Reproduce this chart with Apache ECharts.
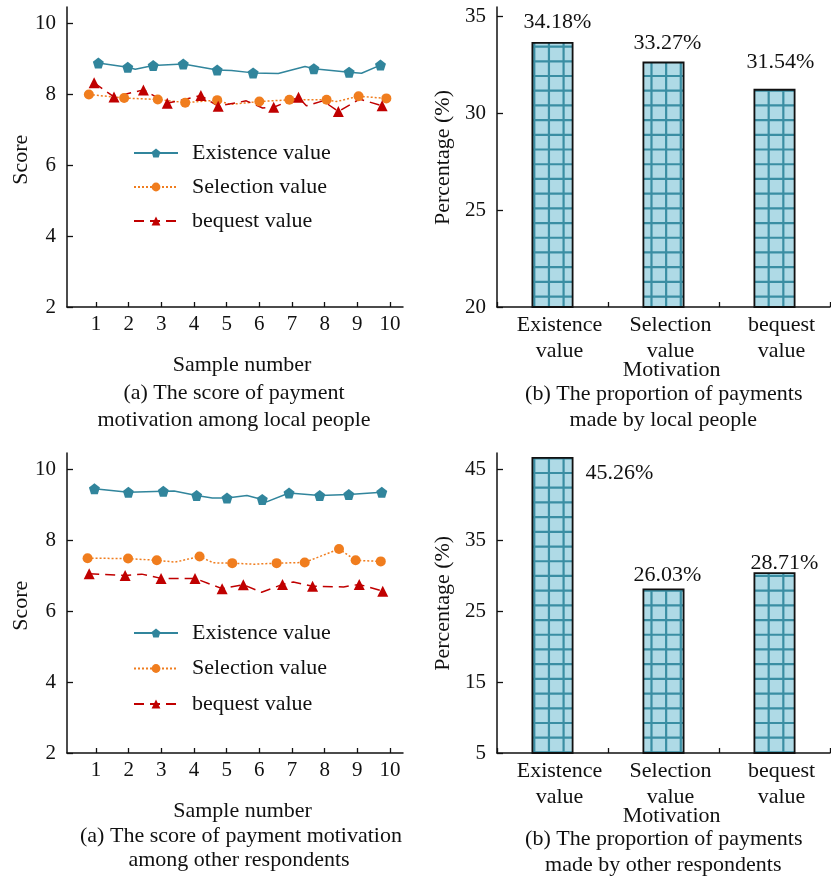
<!DOCTYPE html>
<html><head><meta charset="utf-8">
<script src="https://cdn.jsdelivr.net/npm/echarts@6/dist/echarts.min.js"></script>
<style>html,body{margin:0;padding:0;background:#fff}#c{width:831px;height:878px}</style>
</head><body><div id="c"></div>
<script>
// ---------- data ----------
const sampleTicks = [1, 2, 3, 4, 5, 6, 7, 8, 9, 10];
const scoreTicks = [2, 4, 6, 8, 10];
const seriesNames = ['Existence value', 'Selection value', 'bequest value'];

// (a) local people: marker points and line vertices [sample position, score]
const localExistencePts = [[1.07,8.89],[1.97,8.77],[2.75,8.82],[3.67,8.86],[4.71,8.69],[5.81,8.61],[7.67,8.73],[8.75,8.63],[9.71,8.83]];
const localExistencePath = [[1.07,8.89],[1.97,8.77],[2.2,8.71],[2.75,8.82],[3.67,8.86],[4.71,8.69],[5.15,8.68],[5.81,8.61],[6.58,8.59],[7.40,8.79],[7.67,8.73],[8.75,8.63],[9.13,8.60],[9.71,8.83]];
const localSelectionPts = [[0.78,8.00],[1.86,7.90],[2.89,7.86],[3.73,7.77],[4.71,7.84],[6.00,7.80],[6.92,7.85],[8.06,7.85],[9.04,7.95],[9.89,7.89]];
const localSelectionPath = [[0.78,8.00],[1.86,7.90],[2.89,7.86],[3.73,7.77],[4.71,7.84],[5.10,7.72],[6.00,7.80],[6.92,7.85],[8.06,7.85],[8.36,7.80],[9.04,7.95],[9.89,7.89]];
const localBequestPts = [[0.94,8.33],[1.55,7.93],[2.45,8.13],[3.18,7.75],[4.21,7.97],[4.74,7.67],[6.44,7.64],[7.20,7.92],[8.42,7.52],[9.76,7.68]];
const localBequestPath = [[0.94,8.33],[1.55,7.93],[2.45,8.13],[3.18,7.75],[4.21,7.97],[4.74,7.67],[5.60,7.82],[6.10,7.62],[6.44,7.64],[7.20,7.92],[7.44,7.68],[7.95,7.82],[8.42,7.52],[9.07,7.87],[9.76,7.68]];

// (a) other respondents
const otherExistencePts = [[0.95,9.46],[1.99,9.36],[3.06,9.39],[4.08,9.27],[5.01,9.20],[6.09,9.16],[6.91,9.34],[7.85,9.27],[8.74,9.30],[9.75,9.36]];
const otherExistencePath = [[0.95,9.46],[1.99,9.36],[3.06,9.39],[3.39,9.40],[4.08,9.27],[4.56,9.20],[5.01,9.20],[5.62,9.27],[6.09,9.16],[6.22,9.09],[6.91,9.34],[7.85,9.27],[8.74,9.30],[9.75,9.36]];
const otherSelectionPts = [[0.74,7.50],[1.98,7.49],[2.86,7.44],[4.17,7.55],[5.17,7.36],[6.53,7.36],[7.39,7.38],[8.44,7.76],[8.95,7.44],[9.72,7.41]];
const otherSelectionPath = [[0.74,7.50],[1.98,7.49],[2.86,7.44],[3.42,7.39],[4.17,7.55],[4.59,7.37],[5.17,7.36],[5.82,7.33],[6.53,7.36],[7.39,7.38],[8.44,7.76],[8.95,7.44],[9.72,7.41]];
const otherBequestPts = [[0.79,7.06],[1.89,7.01],[2.99,6.93],[4.03,6.93],[4.86,6.64],[5.51,6.75],[6.71,6.76],[7.63,6.71],[9.06,6.76],[9.78,6.57]];
const otherBequestPath = [[0.79,7.06],[1.89,7.01],[2.40,7.05],[2.99,6.93],[4.03,6.93],[4.86,6.64],[5.51,6.75],[6.07,6.54],[6.71,6.76],[7.04,6.83],[7.63,6.71],[8.58,6.69],[9.06,6.76],[9.78,6.57]];

// (b) proportions
const motivationCats = ['Existence\nvalue', 'Selection\nvalue', 'bequest\nvalue'];
const localShareTicks = [20, 25, 30, 35];
const localShareBars = [33.69, 32.68, 31.27];
const localShareLabels = ['34.18%', '33.27%', '31.54%'];
const otherShareTicks = [5, 15, 25, 35, 45];
const otherShareBars = [46.73, 28.19, 30.49];
const otherShareLabels = ['45.26%', '26.03%', '28.71%'];

// ---------- styling ----------
const FONT = '"Liberation Serif","Times New Roman",serif';
const TXT = '#111';
const COLORS = ['#31859c', '#f07d1e', '#c00000'];
const PENTAGON = 'path://M0,-1L0.951,-0.309L0.588,0.809L-0.588,0.809L-0.951,-0.309Z';
const SYMBOLS = [PENTAGON, 'circle', 'triangle'];
const SYMSIZE = [11, 10, 11];
const LINETYPES = ['solid', [2, 2], [10, 6]];

// grid-hatch pattern (global canvas coordinates)
const pat = document.createElement('canvas');
pat.width = 831; pat.height = 878;
(function () {
  const g = pat.getContext('2d');
  g.fillStyle = '#afdae6';
  g.fillRect(0, 0, 831, 878);
  g.strokeStyle = '#3a8ea3';
  g.lineWidth = 2.2;
  const px = 14.65, py = 14.704;
  for (let k = 0; k * px < 831; k++) {
    const x = px * (k + 0.47);
    g.beginPath(); g.moveTo(x, 0); g.lineTo(x, 878); g.stroke();
  }
  for (let k = 0; k * py < 878; k++) {
    const y = py * (k + 0.169);
    g.beginPath(); g.moveTo(0, y); g.lineTo(831, y); g.stroke();
  }
})();

const axisLineStyle = { show: true, lineStyle: { color: '#111', width: 1.5 } };

function sampleAxis(gi) {
  return {
    type: 'value', gridIndex: gi, min: 0.11, max: 10.4,
    axisLine: axisLineStyle,
    axisTick: { show: true, inside: true, length: 5, customValues: sampleTicks, lineStyle: { color: '#111', width: 1.3 } },
    axisLabel: { customValues: sampleTicks, margin: 7, fontFamily: FONT, fontSize: 21, color: TXT },
    splitLine: { show: false }
  };
}
function scoreAxis(gi) {
  return {
    type: 'value', gridIndex: gi, min: 2, max: 10.47,
    axisLine: axisLineStyle,
    axisTick: { show: true, inside: true, length: 6, customValues: scoreTicks, lineStyle: { color: '#111', width: 1.3 } },
    axisLabel: { customValues: scoreTicks, margin: 11, fontFamily: FONT, fontSize: 21, color: TXT },
    splitLine: { show: false }
  };
}
function catAxis(gi) {
  return {
    type: 'category', gridIndex: gi, data: motivationCats,
    axisLine: axisLineStyle,
    axisTick: { show: true, inside: true, length: 5, lineStyle: { color: '#111', width: 1.3 } },
    axisLabel: { interval: 0, hideOverlap: false, margin: 5, fontFamily: FONT, fontSize: 22, lineHeight: 26, color: TXT, padding: [0, 0, 0, 14] },
    splitLine: { show: false }
  };
}
function shareAxis(gi, min, max, ticks) {
  return {
    type: 'value', gridIndex: gi, min: min, max: max,
    axisLine: axisLineStyle,
    axisTick: { show: true, inside: true, length: 6, customValues: ticks, lineStyle: { color: '#111', width: 1.3 } },
    axisLabel: { customValues: ticks, margin: 11, fontFamily: FONT, fontSize: 21, color: TXT },
    splitLine: { show: false }
  };
}

function lineSeries(gi, paths, pts) {
  const out = [];
  for (let k = 0; k < 3; k++) {
    out.push({
      type: 'line', name: seriesNames[k], xAxisIndex: gi, yAxisIndex: gi,
      data: paths[k], showSymbol: false, symbol: SYMBOLS[k], symbolSize: SYMSIZE[k],
      lineStyle: { color: COLORS[k], width: 1.5, type: LINETYPES[k] },
      itemStyle: { color: COLORS[k] }, z: 2, silent: true
    });
  }
  for (let k = 0; k < 3; k++) {
    out.push({
      type: 'scatter', name: seriesNames[k], xAxisIndex: gi, yAxisIndex: gi,
      data: pts[k], symbol: SYMBOLS[k], symbolSize: SYMSIZE[k],
      itemStyle: { color: COLORS[k], opacity: 1 }, z: 3, silent: true
    });
  }
  return out;
}

function barSeries(gi, values, labels, labelOpts) {
  return {
    type: 'bar', xAxisIndex: gi, yAxisIndex: gi, barWidth: 42, silent: true,
    data: values.map((v, i) => ({ value: v, label: labelOpts[i] })),
    itemStyle: { color: { image: pat, repeat: 'no-repeat' }, borderColor: '#111', borderWidth: 1.8 },
    label: {
      show: true, position: 'top', fontFamily: FONT, fontSize: 22, color: TXT,
      formatter: p => labels[p.dataIndex]
    }
  };
}

function legend(top, gap) {
  return {
    data: seriesNames, orient: 'vertical', left: 133, top: top, padding: 0,
    itemWidth: 44, itemHeight: 11, itemGap: gap, selectedMode: false,
    textStyle: { fontFamily: FONT, fontSize: 22, color: TXT, lineHeight: 22, padding: [0, 0, 0, 9] }
  };
}

function txt(x, y, s, rot) {
  return {
    type: 'text', x: x, y: y, rotation: rot || 0, silent: true,
    style: { text: s, font: '22px ' + FONT, fill: TXT, align: 'center', verticalAlign: 'middle' }
  };
}

const option = {
  animation: false,
  backgroundColor: '#fff',
  grid: [
    { left: 67, top: 7, width: 336, height: 300 },
    { left: 67, top: 453, width: 336, height: 300 },
    { left: 497, top: 7, width: 333, height: 300 },
    { left: 497, top: 453, width: 333, height: 300 }
  ],
  xAxis: [sampleAxis(0), sampleAxis(1), catAxis(2), catAxis(3)],
  yAxis: [scoreAxis(0), scoreAxis(1), shareAxis(2, 20, 35.5, localShareTicks), shareAxis(3, 5, 47.3, otherShareTicks)],
  legend: [legend(142, 12), legend(622, 13.5)],
  series: [].concat(
    lineSeries(0, [localExistencePath, localSelectionPath, localBequestPath], [localExistencePts, localSelectionPts, localBequestPts]),
    lineSeries(1, [otherExistencePath, otherSelectionPath, otherBequestPath], [otherExistencePts, otherSelectionPts, otherBequestPts]),
    [barSeries(2, localShareBars, localShareLabels, [
      { distance: 9, offset: [5, 0] }, { distance: 7, offset: [4, 0] }, { distance: 16, offset: [6, 0] }
    ])],
    [barSeries(3, otherShareBars, otherShareLabels, [
      { position: [54, 5] }, { distance: 2, offset: [4, 0] }, { distance: -2, offset: [10, 0] }
    ])]
  ),
  graphic: [
    txt(21.5, 159.7, 'Score', Math.PI / 2),
    txt(21.5, 605.8, 'Score', Math.PI / 2),
    txt(443, 157.5, 'Percentage (%)', Math.PI / 2),
    txt(443, 603.3, 'Percentage (%)', Math.PI / 2),
    txt(242, 365, 'Sample number'),
    txt(234, 393.3, '(a) The score of payment'),
    txt(234, 420, 'motivation among local people'),
    txt(242.5, 811.7, 'Sample number'),
    txt(241, 836.7, '(a) The score of payment motivation'),
    txt(239, 860, 'among other respondents'),
    txt(671.7, 370, 'Motivation'),
    txt(671.7, 816, 'Motivation'),
    txt(663.8, 394, '(b) The proportion of payments'),
    txt(663.3, 420.7, 'made by local people'),
    txt(663.8, 839.3, '(b) The proportion of payments'),
    txt(663.3, 865, 'made by other respondents')
  ]
};

const chart = echarts.init(document.getElementById('c'), null, { renderer: 'canvas' });
chart.setOption(option);
</script>
</body></html>
